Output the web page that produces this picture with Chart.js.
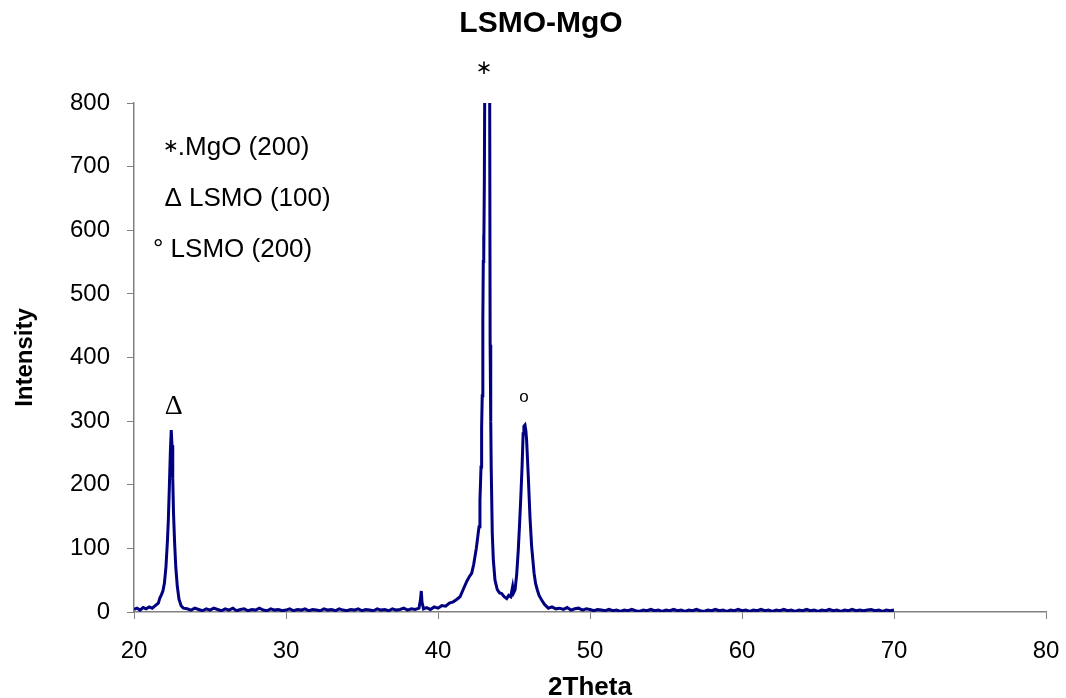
<!DOCTYPE html>
<html><head><meta charset="utf-8">
<script src="https://cdn.jsdelivr.net/npm/chart.js@4.4.0/dist/chart.umd.min.js"></script>
<style>html,body{margin:0;padding:0;background:#fff}#wrap{width:1066px;height:698px}</style>
</head><body><div id="wrap"><canvas id="c" width="1066" height="698"></canvas></div>
<script>
const chartTitle = 'LSMO-MgO';
const xTitle = '2Theta';
const yTitle = 'Intensity';

const twoTheta = [
20.0,20.2,20.4,20.6,20.8,21.0,21.2,21.4,
21.6,21.7,21.8,21.9,22.0,22.1,22.2,22.26,22.32,22.39,22.45,22.5,22.55,22.6,22.67,22.75,22.85,22.96,23.1,23.25,
23.5,23.75,24,24.25,24.5,24.75,25,25.25,25.5,25.75,26,26.25,26.5,26.75,27,27.25,27.5,27.75,28,28.25,28.5,28.75,
29,29.25,29.5,29.75,30,30.25,30.5,30.75,31,31.25,31.5,31.75,32,32.25,32.5,32.75,33,33.25,33.5,33.75,34,34.25,
34.5,34.75,35,35.25,35.5,35.75,36,36.25,36.5,36.75,37,37.25,37.5,37.75,38,38.25,38.5,38.75,
38.85,38.9,38.95,39.05,39.25,39.5,39.75,40,40.25,40.5,
40.75,41,41.25,41.45,41.65,41.89,42.05,42.22,42.35,42.43,
42.52,42.59,42.65,42.7,42.76,42.8,42.83,42.87,42.91,42.95,
42.98,43.0,43.02,43.05,43.12,43.2,43.28,43.35,43.4,43.43,
43.47,43.5,43.57,43.64,43.75,43.9,44.05,44.19,44.35,44.52,
44.65,44.78,44.91,44.97,45.07,45.18,45.28,45.36,45.44,45.53,
45.6,45.65,45.72,45.78,45.83,45.94,46.05,46.16,46.32,46.42,
46.53,46.65,46.82,47.0,47.26,47.5,47.75,48,48.25,48.5,
48.75,49,49.25,49.5,49.75,50,
50.25,50.5,50.75,51,51.25,51.5,51.75,52,52.25,52.5,
52.75,53,53.25,53.5,53.75,54,54.25,54.5,54.75,55,
55.25,55.5,55.75,56,56.25,56.5,56.75,57,57.25,57.5,
57.75,58,58.25,58.5,58.75,59,59.25,59.5,59.75,60,
60.25,60.5,60.75,61,61.25,61.5,61.75,62,62.25,62.5,
62.75,63,63.25,63.5,63.75,64,64.25,64.5,64.75,65,
65.25,65.5,65.75,66,66.25,66.5,66.75,67,67.25,67.5,
67.75,68,68.25,68.5,68.75,69,69.25,69.5,69.75,70
];
const intensity = [
4,6,3,7,5,8,6,10,
14,22,27,33,45,70,112,145,192,250,286,262,210,155,110,70,40,20,10,6,
5,3,6,4,2,5,3,6,4,2,5,3,6,2,4,5,2,4,3,6,3,2,
5,3,4,2,3,5,2,4,3,5,2,4,3,2,5,3,4,2,5,3,2,4,
3,5,2,4,3,2,5,3,4,2,5,3,4,6,3,5,4,6,
20,33,15,5,7,4,8,6,10,9,
14,16,20,24,35,48,55,61,75,87,
100,113,125,134,176,205,228,290,340,460,
551,593,560,680,1100,1600,1500,1100,820,420,
300,228,124,82,50,35,30,29,24,21,
26,24,40,30,35,60,97,135,176,228,
280,292,294,285,270,213,150,103,61,45,
35,26,19,12,6,8,5,6,4,7,
3,5,6,3,5,4,
2,4,3,2,4,2,3,1,3,2,
4,2,1,3,2,4,2,3,1,3,
2,4,2,3,1,3,2,4,2,1,
3,2,4,2,3,1,3,2,4,2,
3,1,3,2,4,2,3,1,3,2,
4,2,3,1,3,2,4,2,3,1,
3,2,4,2,3,1,3,2,4,2,
3,2,3,4,2,3,1,3,2,3
];
const xTickValues = [20,30,40,50,60,70,80];
const yTickValues = [0,100,200,300,400,500,600,700,800];
const peakMarks = ['\u2217','\u0394','o'];
const legendLines = ['\u2217.MgO (200)','\u0394 LSMO (100)','\u00B0 LSMO (200)'];

const points = twoTheta.map((t,i)=>({x:t,y:intensity[i]}));

const annotPlugin = {
  id:'annot',
  afterDraw(chart){
    const {ctx, scales:{x,y}} = chart;
    ctx.save();
    ctx.fillStyle = '#000';
    ctx.textBaseline = 'middle';
    ctx.textAlign = 'center';
    ctx.font = 'bold 30px "Liberation Sans"';
    ctx.fillText(chartTitle, 541, 24);
    const pm = [
      {x:43.03, y:853, font:'20px "DejaVu Sans"'},
      {x:22.62, y:323, font:'28px "Liberation Serif"'},
      {x:45.65, y:337, font:'17px "Liberation Sans"'}
    ];
    pm.forEach((p,i)=>{ ctx.font=p.font; ctx.fillText(peakMarks[i], x.getPixelForValue(p.x), y.getPixelForValue(p.y)); });
    const lg = [{x:21.9,y:730},{x:22.0,y:650},{x:21.25,y:569}];
    ctx.textAlign = 'left';
    lg.forEach((p,i)=>{
      const s = legendLines[i];
      let px = x.getPixelForValue(p.x), py = y.getPixelForValue(p.y);
      if (i === 0) {
        ctx.font = '19px "DejaVu Sans"';
        ctx.fillText(s[0], px, py);
        px += ctx.measureText(s[0]).width - 1;
        ctx.font = '26px "Liberation Sans"';
        ctx.fillText(s.slice(1), px, py);
      } else {
        ctx.font = '26px "Liberation Sans"';
        ctx.fillText(s, px, py);
      }
    });
    ctx.restore();
  }
};

new Chart(document.getElementById('c'), {
  type:'line',
  data:{datasets:[{data:points, borderColor:'#000080', borderWidth:3, pointRadius:0, tension:0, fill:false}]},
  options:{
    responsive:false, animation:false, devicePixelRatio:1,
    layout:{padding:{left:0,right:20,top:103,bottom:0}},
    plugins:{
      legend:{display:false}, tooltip:{enabled:false}, title:{display:false}
    },
    scales:{
      x:{type:'linear', min:20, max:80,
        afterBuildTicks(s){ s.ticks = xTickValues.map(v=>({value:v})); },
        afterFit(s){ s.height = 86; s.paddingLeft = 0; s.paddingRight = 0; },
        grid:{display:true, drawOnChartArea:false, drawTicks:true, tickLength:7, color:'#808080'},
        border:{display:true, color:'#808080', width:1.5},
        ticks:{color:'#000', padding:18, maxRotation:0, font:{family:'"Liberation Sans"', size:24}},
        title:{display:true, text:xTitle, color:'#000', font:{family:'"Liberation Sans"', size:26, weight:'bold'}, padding:{top:0,bottom:-5}}
      },
      y:{type:'linear', min:0, max:800,
        afterBuildTicks(s){ s.ticks = yTickValues.map(v=>({value:v})); },
        afterFit(s){ s.width = 134; s.paddingTop = 0; s.paddingBottom = 0; },
        grid:{display:true, drawOnChartArea:false, drawTicks:true, tickLength:7, color:'#808080'},
        border:{display:true, color:'#808080', width:1.5},
        ticks:{color:'#000', padding:17, font:{family:'"Liberation Sans"', size:24}},
        title:{display:true, text:yTitle, color:'#000', font:{family:'"Liberation Sans"', size:24, weight:'bold'}, padding:{top:11,bottom:0}}
      }
    }
  },
  plugins:[annotPlugin]
});
</script></body></html>
